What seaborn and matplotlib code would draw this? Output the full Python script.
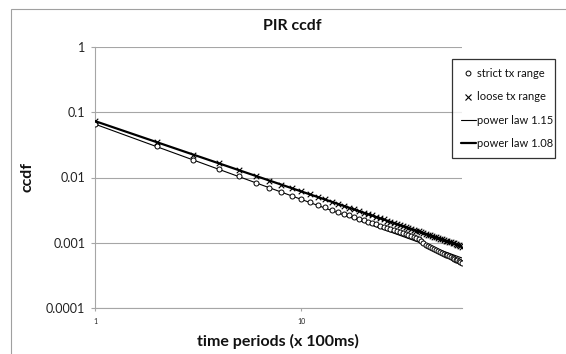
import matplotlib
matplotlib.use("Agg")
import matplotlib.pyplot as plt
import matplotlib.ticker as mticker
from matplotlib.lines import Line2D
from matplotlib.patches import Rectangle
import seaborn as sns
import pandas as pd

# ---- data ----
periods = list(range(1, 61))
strict_ccdf = [0.066, 0.0302, 0.0189, 0.0135, 0.0104, 0.0083, 0.0069, 0.0059, 0.0052, 0.0046,
               0.0042, 0.0038, 0.00348, 0.00322, 0.00299, 0.00279, 0.00261, 0.00245, 0.00232, 0.00220,
               0.00209, 0.00199, 0.00190, 0.00182, 0.00174, 0.00167, 0.00161, 0.00155, 0.00149, 0.00144,
               0.00139, 0.00134, 0.00130, 0.00126, 0.00122, 0.00118, 0.00113, 0.00106, 0.00099, 0.00093,
               0.00089, 0.000855, 0.000825, 0.000796, 0.000769, 0.000743, 0.000719, 0.000696, 0.000674, 0.000653,
               0.000634, 0.000615, 0.000597, 0.000580, 0.000564, 0.000549, 0.000534, 0.000520, 0.000506, 0.000493]
loose_ccdf = [0.0735, 0.0348, 0.0224, 0.01645, 0.01292, 0.01061, 0.00899, 0.00778, 0.00685, 0.00611,
              0.00551, 0.00502, 0.00461, 0.00425, 0.00395, 0.00368, 0.00345, 0.00324, 0.00306, 0.00289,
              0.00274, 0.00261, 0.00249, 0.00237, 0.00227, 0.00218, 0.00209, 0.00201, 0.00193, 0.00187,
              0.00180, 0.00174, 0.00168, 0.00163, 0.00158, 0.00153, 0.00149, 0.00145, 0.00141, 0.00137,
              0.00133, 0.00130, 0.00127, 0.00124, 0.00121, 0.00118, 0.00115, 0.00112, 0.00110, 0.00107,
              0.00105, 0.00103, 0.00101, 0.00099, 0.00097, 0.00095, 0.00093, 0.00091, 0.00089, 0.00086]
# power-law fits are straight lines in log-log space: endpoints only
pl115_x = [1, 60]
pl115_y = [0.066, 0.00058]
pl108_x = [1, 60]
pl108_y = [0.0735, 0.00088]

y_ticks = [1, 0.1, 0.01, 0.001, 0.0001]
y_tick_labels = ["1", "0.1", "0.01", "0.001", "0.0001"]
x_ticks = [1, 10]
x_tick_labels = ["1", "10"]
legend_labels = ["strict tx range", "loose tx range", "power law 1.15", "power law 1.08"]

sns.set_style("white")
plt.rcParams["font.family"] = ["Lato", "DejaVu Sans"]

W, H = 566, 354
fig = plt.figure(figsize=(W / 100, H / 100), dpi=100)
fig.patch.set_facecolor("white")

# outer chart border
fig.patches.append(Rectangle((10.5 / W, -0.1), 2.0, 1 - 8.5 / H + 0.1, transform=fig.transFigure,
                             fill=False, edgecolor="#a0a0a0", linewidth=0.8, zorder=0))

ax = fig.add_axes([95 / W, 1 - 307.7 / H, (462 - 95) / W, (307.7 - 47.3) / H])
ax.set_facecolor("white")

df_s = pd.DataFrame({"x": periods, "y": strict_ccdf})
df_l = pd.DataFrame({"x": periods, "y": loose_ccdf})
df_p1 = pd.DataFrame({"x": pl115_x, "y": pl115_y})
df_p2 = pd.DataFrame({"x": pl108_x, "y": pl108_y})

sns.lineplot(data=df_p1, x="x", y="y", ax=ax, color="black", linewidth=0.8, zorder=3)
sns.lineplot(data=df_p2, x="x", y="y", ax=ax, color="black", linewidth=1.6, zorder=3)
sns.scatterplot(data=df_s, x="x", y="y", ax=ax, marker="o", s=13, facecolor="white",
                edgecolor="black", linewidth=0.7, zorder=4)
sns.scatterplot(data=df_l, x="x", y="y", ax=ax, marker="x", s=16, color="black",
                linewidth=0.8, zorder=4)

ax.set_xscale("log")
ax.set_yscale("log")
ax.set_xlim(1, 60)
ax.set_ylim(0.0001, 1)

ax.yaxis.set_major_locator(mticker.FixedLocator(y_ticks))
ax.yaxis.set_major_formatter(mticker.FixedFormatter(y_tick_labels))
ax.yaxis.set_minor_locator(mticker.NullLocator())
ax.xaxis.set_major_locator(mticker.FixedLocator(x_ticks))
ax.xaxis.set_major_formatter(mticker.FixedFormatter(x_tick_labels))
ax.xaxis.set_minor_locator(mticker.NullLocator())

ax.grid(axis="y", color="#a6a6a6", linewidth=0.8)
ax.grid(axis="x", visible=False)
for s in ["top", "right"]:
    ax.spines[s].set_visible(False)
for s in ["left", "bottom"]:
    ax.spines[s].set_color("#a6a6a6")
    ax.spines[s].set_linewidth(0.8)

ax.tick_params(axis="y", which="major", length=3, width=0.8, color="#a6a6a6",
               labelsize=9, labelcolor="#222222", pad=4, left=True)
ax.tick_params(axis="x", which="major", length=2.5, width=0.8, color="#a6a6a6",
               labelsize=5, labelcolor="#222222", pad=5, bottom=True)

ax.set_xlabel("")
ax.set_ylabel("")
fig.text(278 / W, 1 - 341 / H, "time periods (x 100ms)", ha="center", va="center",
         fontsize=11.5, fontweight="bold", color="#111111")
fig.text(27 / W, 1 - 177 / H, "ccdf", ha="center", va="center", rotation=90,
         fontsize=11.5, fontweight="bold", color="#111111")
fig.text(292 / W, 1 - 26 / H, "PIR ccdf", ha="center", va="center",
         fontsize=11.5, fontweight="bold", color="#111111")

handles = [
    Line2D([], [], linestyle="none", marker="o", markersize=3.5, markerfacecolor="white",
           markeredgecolor="black", markeredgewidth=0.7),
    Line2D([], [], linestyle="none", marker="x", markersize=4, color="black", markeredgewidth=0.8),
    Line2D([], [], color="black", linewidth=0.8),
    Line2D([], [], color="black", linewidth=1.6),
]
leg = fig.legend(handles, legend_labels, loc="upper left",
                 bbox_to_anchor=(451.7 / W, 1 - 155 / H, 103.3 / W, 95.7 / H),
                 bbox_transform=fig.transFigure, mode="expand", borderaxespad=0,
                 fontsize=8, frameon=True, fancybox=False, edgecolor="black",
                 handlelength=1.35, handletextpad=0.1, labelspacing=1.1, borderpad=0.8)
leg.get_frame().set_linewidth(0.9)
for t in leg.get_texts():
    t.set_color("#111111")

fig.savefig("out.png", dpi=100, facecolor="white")
